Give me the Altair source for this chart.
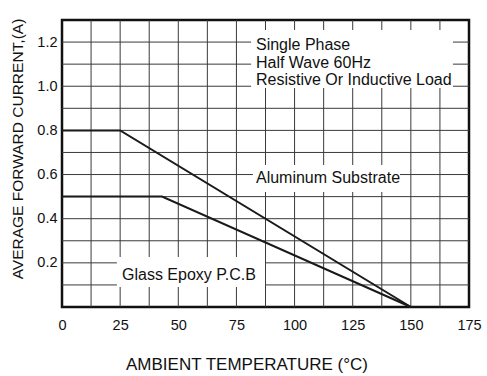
import altair as alt
import pandas as pd

# Derating curves (ambient temperature in °C, average forward current in A)
al_temp = [0, 25, 150]
al_curr = [0.8, 0.8, 0.0]
gl_temp = [0, 43, 150]
gl_curr = [0.5, 0.5, 0.0]

x_grid = [12.5, 25, 37.5, 50, 62.5, 75, 87.5, 100, 112.5, 125, 137.5, 150, 162.5]
y_grid = [0.1, 0.2, 0.3, 0.4, 0.5, 0.6, 0.7, 0.8, 0.9, 1.0, 1.1, 1.2]
x_labels = [0, 25, 50, 75, 100, 125, 150, 175]
y_labels = [0.2, 0.4, 0.6, 0.8, 1.0, 1.2]

# Annotation boxes (data units) and text
box_x = [81.3, 82.1, 23.6]
box_x2 = [168.1, 145.3, 87.3]
box_y = [1.255, 0.643, 0.226]
box_y2 = [0.992, 0.521, 0.091]

note_text = ["Single Phase", "Half Wave 60Hz", "Resistive Or Inductive Load",
             "Aluminum Substrate", "Glass Epoxy P.C.B"]
note_x = [83.4, 83.4, 83.4, 83.4, 25.8]
note_y = [1.187, 1.105, 1.028, 0.584, 0.145]

curves = pd.concat([
    pd.DataFrame({"t": al_temp, "i": al_curr, "s": "Aluminum Substrate"}),
    pd.DataFrame({"t": gl_temp, "i": gl_curr, "s": "Glass Epoxy P.C.B"}),
])
boxes = pd.DataFrame({"x": box_x, "x2": box_x2, "y": box_y, "y2": box_y2})
notes = pd.DataFrame({"text": note_text, "x": note_x, "y": note_y})
xg = pd.DataFrame({"v": x_grid})
yg = pd.DataFrame({"v": y_grid})

FONT = "Liberation Sans"
GRID = "#3a3a3a"

xscale = alt.Scale(domain=[0, 175], nice=False, zero=False)
yscale = alt.Scale(domain=[0, 1.3], nice=False, zero=False)

x_axis = alt.Axis(
    values=x_labels,
    title="AMBIENT TEMPERATURE (°C)",
    ticks=False, domain=False, grid=False,
    labelFont=FONT, labelFontSize=14.5, labelColor="#111", labelPadding=11,
    labelFlush=False,
    titleFont=FONT, titleFontSize=17, titleFontWeight="normal", titleColor="#111",
    titleX=184.5, titleY=57, titleBaseline="middle",
)
y_axis = alt.Axis(
    values=y_labels, format=".1f",
    title="AVERAGE FORWARD CURRENT,(A)",
    ticks=False, domain=False, grid=False,
    labelFont=FONT, labelFontSize=14.5, labelColor="#111", labelPadding=5,
    labelFlush=False,
    titleFont=FONT, titleFontSize=15.5, titleFontWeight="normal", titleColor="#111",
    titleX=-37, titleY=128.5, titleAngle=-90, titleAlign="center", titleBaseline="bottom",
)

vgrid = alt.Chart(xg).mark_rule(color=GRID, strokeWidth=1).encode(
    x=alt.X("v:Q", scale=xscale, axis=x_axis)
)
hgrid = alt.Chart(yg).mark_rule(color=GRID, strokeWidth=1).encode(
    y=alt.Y("v:Q", scale=yscale, axis=y_axis)
)

lines = alt.Chart(curves).mark_line(color="#1a1a1a", strokeWidth=2).encode(
    x=alt.X("t:Q", scale=xscale),
    y=alt.Y("i:Q", scale=yscale),
    detail="s:N",
)

rects = alt.Chart(boxes).mark_rect(color="white", opacity=1).encode(
    x=alt.X("x:Q", scale=xscale),
    x2="x2:Q",
    y=alt.Y("y:Q", scale=yscale),
    y2="y2:Q",
)

texts = alt.Chart(notes).mark_text(
    align="left", baseline="middle", font=FONT, fontSize=16, color="#111"
).encode(
    x=alt.X("x:Q", scale=xscale),
    y=alt.Y("y:Q", scale=yscale),
    text="text:N",
)

chart = alt.layer(vgrid, hgrid, lines, rects, texts).properties(
    width=407, height=287,
    padding={"left": 62, "top": 20, "right": 18, "bottom": 69},
    autosize=alt.AutoSizeParams(type="none"),
    background="white",
).configure_view(
    stroke="#111", strokeWidth=2.5
)

chart.save("out.html", embed_options={"renderer": "svg", "actions": False})
